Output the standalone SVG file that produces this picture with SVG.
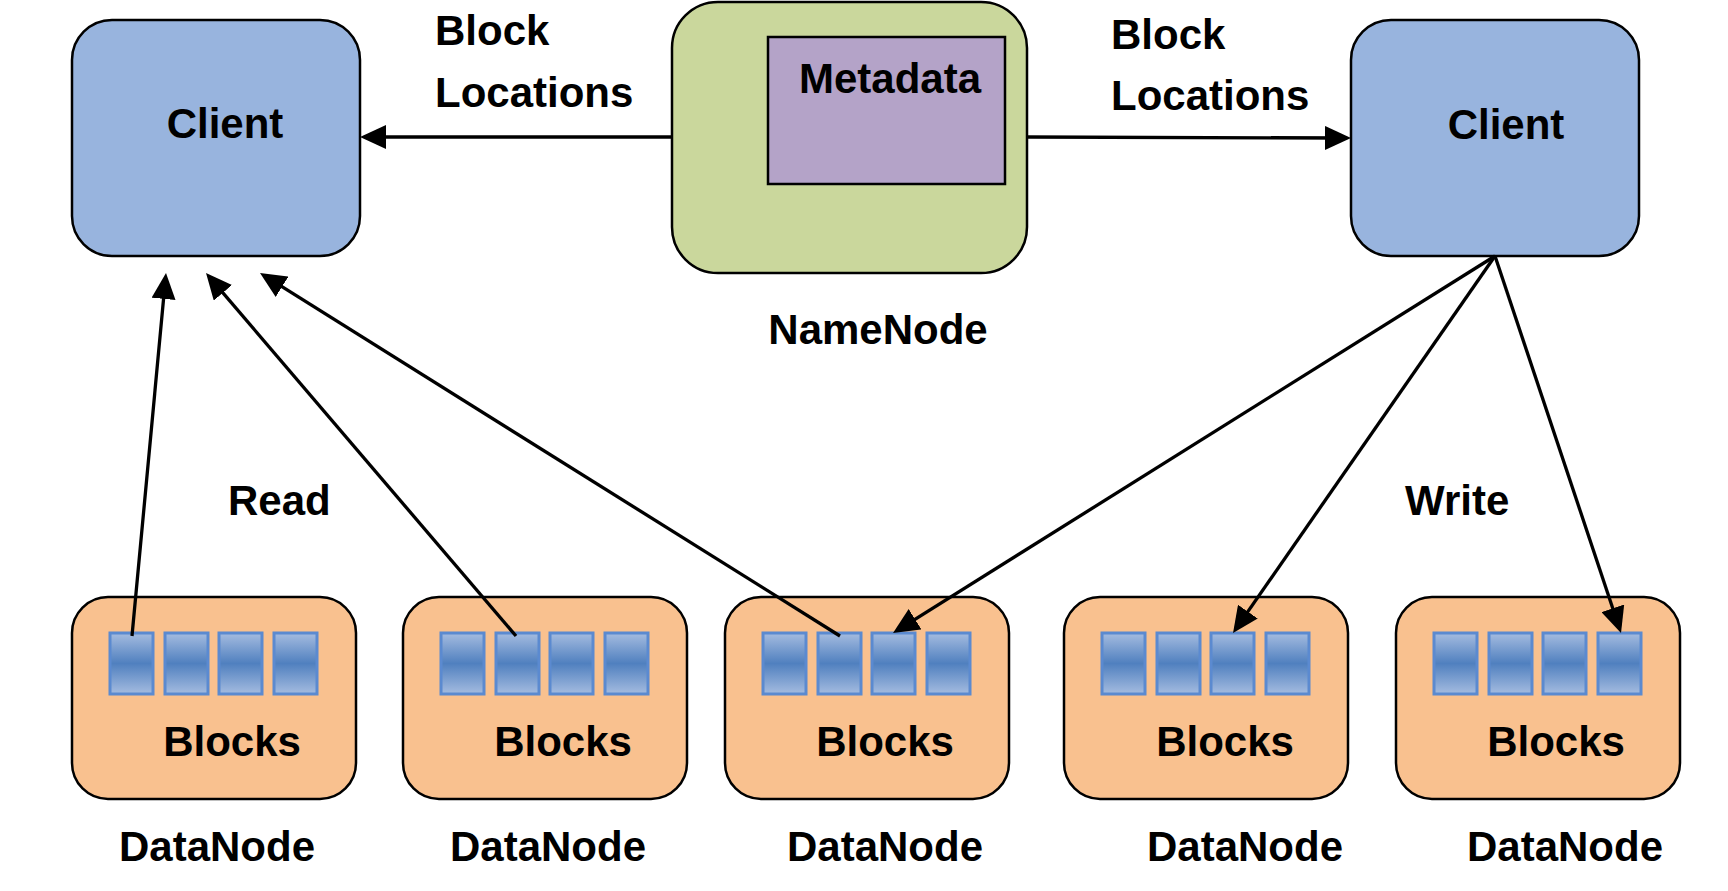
<svg xmlns="http://www.w3.org/2000/svg" width="1728" height="891" viewBox="0 0 1728 891">
<style>
text{font-family:"Liberation Sans",Arial,sans-serif;font-weight:bold;font-size:42px;fill:#000}
.client{fill:#98b4de;stroke:#000;stroke-width:2.5}
.name{fill:#cad79c;stroke:#000;stroke-width:2.5}
.meta{fill:#b4a3c8;stroke:#000;stroke-width:2.5}
.dn{fill:#f9c18f;stroke:#000;stroke-width:2.5}
.blk{fill:url(#bg);stroke:#5b8ad0;stroke-width:3}
.c{text-anchor:middle}
.conn line{stroke:#000;stroke-width:3.3;fill:none;marker-end:url(#ah)}
</style>
<defs>
<linearGradient id="bg" x1="0" y1="0" x2="0" y2="1">
<stop offset="0" stop-color="#a5bce0"/>
<stop offset="0.5" stop-color="#5080bf"/>
<stop offset="1" stop-color="#a5bce0"/>
</linearGradient>
<marker id="ah" markerUnits="userSpaceOnUse" markerWidth="26" markerHeight="24" viewBox="0 0 26 24" refX="18" refY="12" orient="auto">
<path d="M0,0 L26,12 L0,24 z" fill="#000"/>
</marker>
<g id="blocks">
<rect class="blk" x="38" y="36" width="43" height="61"/>
<rect class="blk" x="93" y="36" width="43" height="61"/>
<rect class="blk" x="147" y="36" width="43" height="61"/>
<rect class="blk" x="202" y="36" width="43" height="61"/>
</g>
</defs>
<rect width="1728" height="891" fill="#fff"/>

<g id="client-left">
<rect class="client" x="72" y="20" width="288" height="236" rx="40"/>
<text x="225" y="138" class="c">Client</text>
</g>
<g id="namenode">
<rect class="name" x="672" y="2" width="355" height="271" rx="46"/>
<rect class="meta" x="768" y="37" width="237" height="147"/>
<text x="890" y="93" class="c">Metadata</text>
<text x="878" y="344" class="c">NameNode</text>
</g>
<g id="client-right">
<rect class="client" x="1351" y="20" width="288" height="236" rx="40"/>
<text x="1506" y="139" class="c">Client</text>
</g>

<g id="label-left">
<text x="435" y="45">Block</text>
<text x="435" y="107">Locations</text>
</g>
<g id="label-right">
<text x="1111" y="49">Block</text>
<text x="1111" y="110">Locations</text>
</g>
<g id="label-read"><text x="228" y="515">Read</text></g>
<g id="label-write"><text x="1405" y="515">Write</text></g>

<g id="datanode-1" transform="translate(72,597)">
<rect class="dn" width="284" height="202" rx="36"/>
<use href="#blocks"/>
<text x="160" y="159" class="c">Blocks</text>
<text x="145" y="264" class="c">DataNode</text>
</g>
<g id="datanode-2" transform="translate(403,597)">
<rect class="dn" width="284" height="202" rx="36"/>
<use href="#blocks"/>
<text x="160" y="159" class="c">Blocks</text>
<text x="145" y="264" class="c">DataNode</text>
</g>
<g id="datanode-3" transform="translate(725,597)">
<rect class="dn" width="284" height="202" rx="36"/>
<use href="#blocks"/>
<text x="160" y="159" class="c">Blocks</text>
<text x="160" y="264" class="c">DataNode</text>
</g>
<g id="datanode-4" transform="translate(1064,597)">
<rect class="dn" width="284" height="202" rx="36"/>
<use href="#blocks"/>
<text x="161" y="159" class="c">Blocks</text>
<text x="181" y="264" class="c">DataNode</text>
</g>
<g id="datanode-5" transform="translate(1396,597)">
<rect class="dn" width="284" height="202" rx="36"/>
<use href="#blocks"/>
<text x="160" y="159" class="c">Blocks</text>
<text x="169" y="264" class="c">DataNode</text>
</g>

<g id="connectors" class="conn">
<line x1="672" y1="137" x2="368" y2="137"/>
<line x1="1027" y1="137" x2="1343" y2="138"/>
<line x1="132" y1="636" x2="165.25" y2="280.96"/>
<line x1="516" y1="636" x2="211.2" y2="279.1"/>
<line x1="840" y1="636" x2="266.8" y2="277.2"/>
<line x1="1495" y1="256" x2="899.8" y2="628.8"/>
<line x1="1495" y1="256" x2="1237.6" y2="626.4"/>
<line x1="1495" y1="256" x2="1618.5" y2="625.4"/>
</g>
</svg>
